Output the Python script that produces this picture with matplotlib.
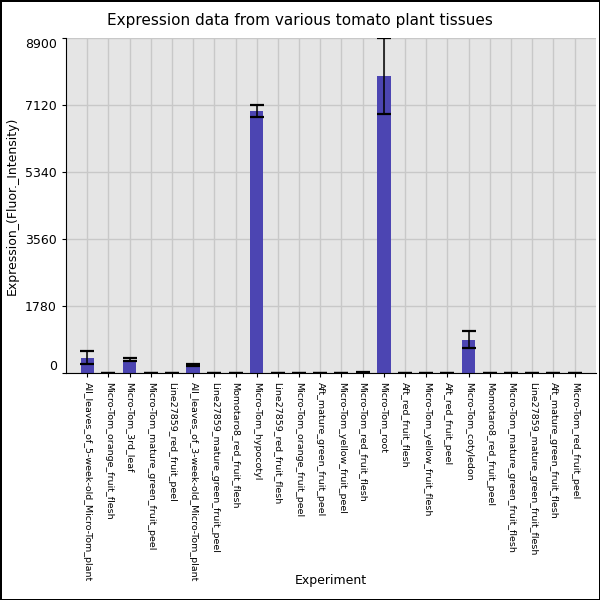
import numpy as np
import matplotlib
matplotlib.use("Agg")
import matplotlib.pyplot as plt

# Tissue names, in plotting order
tissues = [
    "All_leaves_of_5-week-old_Micro-Tom_plant",
    "Micro-Tom_orange_fruit_flesh",
    "Micro-Tom_3rd_leaf",
    "Micro-Tom_mature_green_fruit_peel",
    "Line27859_red_fruit_peel",
    "All_leaves_of_3-week-old_Micro-Tom_plant",
    "Line27859_mature_green_fruit_peel",
    "Momotaro8_red_fruit_flesh",
    "Micro-Tom_hypocotyl",
    "Line27859_red_fruit_flesh",
    "Micro-Tom_orange_fruit_peel",
    "Aft_mature_green_fruit_peel",
    "Micro-Tom_yellow_fruit_peel",
    "Micro-Tom_red_fruit_flesh",
    "Micro-Tom_root",
    "Aft_red_fruit_flesh",
    "Micro-Tom_yellow_fruit_flesh",
    "Aft_red_fruit_peel",
    "Micro-Tom_cotyledon",
    "Momotaro8_red_fruit_peel",
    "Micro-Tom_mature_green_fruit_flesh",
    "Line27859_mature_green_fruit_flesh",
    "Aft_mature_green_fruit_flesh",
    "Micro-Tom_red_fruit_peel",
]

# mean expression and error
expr_mean = [415, 12, 360, 8, 10, 215, 10, 10, 6955, 8, 10, 8, 12, 25, 7875,
             10, 12, 10, 890, 8, 12, 10, 12, 12]
expr_err = [172, 6, 45, 5, 5, 25, 5, 5, 165, 5, 5, 5, 5, 8, 1010,
            5, 5, 5, 230, 5, 5, 5, 5, 5]

yticks = [0, 1780, 3560, 5340, 7120, 8900]

fig = plt.figure(figsize=(6, 6), dpi=100)
fig.patch.set_edgecolor("black")
fig.patch.set_linewidth(1.0)
ax = fig.add_axes([0.11, 0.378, 0.883, 0.559])
ax.set_facecolor("#e5e5e5")

x = np.arange(len(tissues))
ax.bar(x, expr_mean, width=0.63, color="#4c45b2", zorder=2)
ax.errorbar(x, expr_mean, yerr=expr_err, fmt="none", ecolor="black",
            elinewidth=1.1, capsize=4.8, capthick=1.6, zorder=3)

ax.set_xlim(-1, len(tissues))
ax.set_ylim(0, 8900)
ax.set_yticks(yticks)
ax.set_yticklabels([str(v) for v in yticks], fontsize=9)
ylabs = ax.get_yticklabels()
ylabs[0].set_va("bottom")
ylabs[-1].set_va("top")

ax.set_xticks(x)
ax.set_xticklabels(tissues, rotation=-90, fontsize=6.8, va="top", ha="center")
ax.tick_params(axis="x", length=3)
ax.tick_params(axis="y", length=3)

ax.grid(True, color="#c8c8c8", linewidth=1, zorder=0)
ax.set_axisbelow(True)
for side in ["top", "right"]:
    ax.spines[side].set_visible(False)

ax.set_title("Expression data from various tomato plant tissues", fontsize=11,
             pad=9, x=(0.5 - 0.11) / 0.883)
ax.set_ylabel("Expression_(Fluor._Intensity)", fontsize=9)
ax.yaxis.set_label_coords(-0.09, 0.5)
ax.set_xlabel("Experiment", fontsize=9)
ax.xaxis.set_label_coords(0.5, -0.6)

fig.savefig("out.png", dpi=100, edgecolor=fig.get_edgecolor())
